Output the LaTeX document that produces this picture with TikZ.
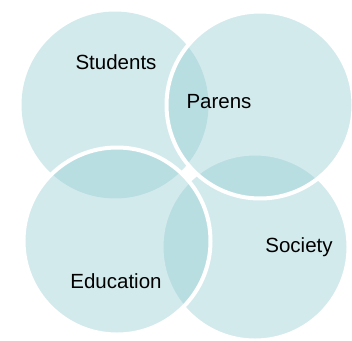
\documentclass[tikz,border=0pt]{standalone}
\usepackage{fontspec}
\setmainfont{Liberation Sans}
\begin{document}
\begin{tikzpicture}[x=1pt,y=-1pt,
  venn/.style={circle, minimum size=187pt, inner sep=0pt, fill={rgb,255:red,150;green,205;blue,212}, fill opacity=0.42, draw=white, draw opacity=1, line width=4pt},
  lbl/.style={font=\fontsize{20.5}{24}\selectfont, text=black}]
\useasboundingbox (0,0) rectangle (352,340);
\node[venn, draw=none] (students) at (115,105) {};
\node[venn] (society) at (255,247) {};
\node[venn] (parens) at (260,105) {};
\node[venn] (education) at (117,241) {};
\node[lbl] (tstudents) at (116,62) {Students};
\node[lbl] (tparens) at (219,102) {Parens};
\node[lbl] (tsociety) at (299,247) {Society};
\node[lbl] (teducation) at (116,281) {Education};
\end{tikzpicture}
\end{document}
